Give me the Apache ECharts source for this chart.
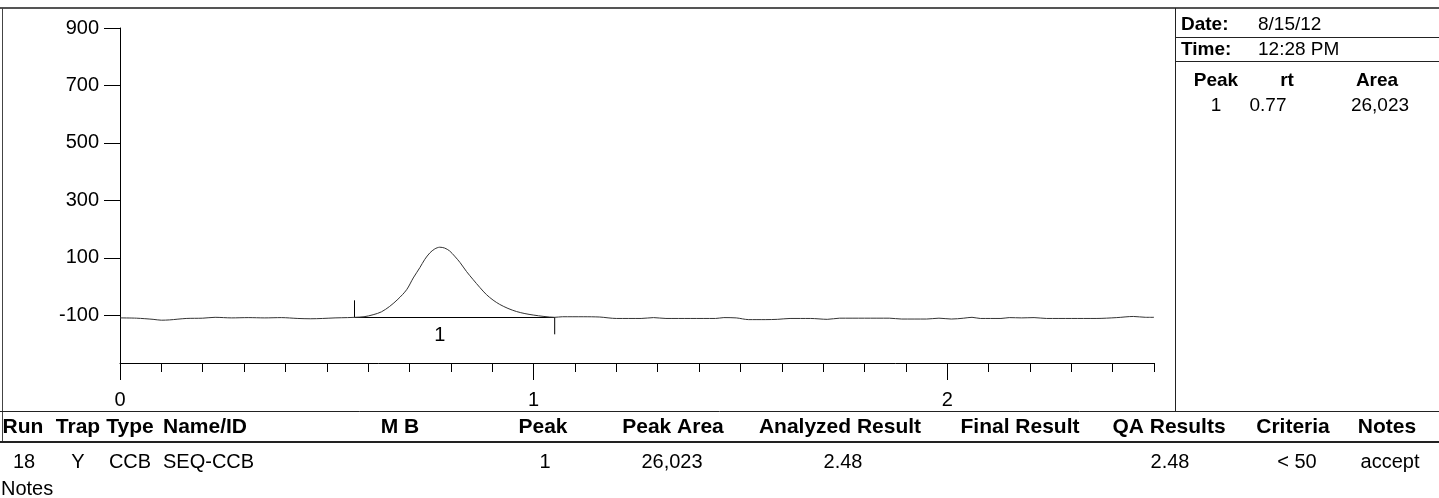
<!DOCTYPE html>
<html>
<head>
<meta charset="utf-8">
<script src="https://cdn.jsdelivr.net/npm/echarts@6/dist/echarts.min.js"></script>
<style>
  html, body { margin: 0; padding: 0; background: #fff; }
  #chart { width: 1439px; height: 498px; }
</style>
</head>
<body>
<div id="chart"></div>
<script>
// Detector trace: retention time (min) and signal
const rt = [
  0.00, 0.04, 0.08, 0.10, 0.12, 0.16, 0.20, 0.23, 0.27, 0.31, 0.35, 0.39, 0.43, 0.46, 0.49, 0.52, 0.55,
  0.567, 0.59, 0.612, 0.632, 0.652, 0.672, 0.693, 0.709, 0.725, 0.737, 0.749, 0.761, 0.773, 0.785,
  0.797, 0.809, 0.822, 0.838, 0.854, 0.870, 0.886, 0.902, 0.918, 0.938, 0.959, 0.979, 0.999, 1.025, 1.051,
  1.07, 1.12, 1.16, 1.20, 1.26, 1.29, 1.32, 1.38, 1.44, 1.46, 1.49, 1.52, 1.56, 1.59, 1.62, 1.67, 1.71,
  1.74, 1.80, 1.86, 1.89, 1.95, 1.98, 2.01, 2.04, 2.06, 2.08, 2.13, 2.15, 2.18, 2.21, 2.24, 2.30, 2.36,
  2.41, 2.45, 2.48, 2.50
];
const signal = [
  -109, -110, -114, -117, -116, -111, -110, -107, -109, -108, -109, -108, -111, -112, -111, -109, -108,
  -107, -105, -98, -88, -69, -44, -11, 30, 66, 95, 117, 131, 137, 134,
  124, 106, 84, 52, 24, -3, -28, -47, -62, -76, -87, -94, -99, -104, -107,
  -105, -105, -106, -111, -111, -108, -111, -111, -111, -108, -109, -115, -115, -114, -111, -111, -114,
  -110, -110, -110, -113, -113, -110, -113, -110, -107, -111, -111, -108, -109, -108, -111, -111, -111,
  -108, -104, -107, -107
];

// Integrated peaks
const peakNumbers = [1];
const peakApex = [0.773];
const peakStart = [0.567];
const peakEnd = [1.051];
const peakBase = [-107];
const peakRt = ['0.77'];
const peakAreas = ['26,023'];

// Axis ticks
const yTickValues = [-100, 100, 300, 500, 700, 900];
const xLabelValues = [0, 1, 2];
const xMinorValues = [0, 0.1, 0.2, 0.3, 0.4, 0.5, 0.6, 0.7, 0.8, 0.9, 1, 1.1, 1.2, 1.3, 1.4, 1.5,
  1.6, 1.7, 1.8, 1.9, 2, 2.1, 2.2, 2.3, 2.4, 2.5];

// Run header
const reportDate = '8/15/12';
const reportTime = '12:28 PM';
const peakTableHeaders = ['Peak', 'rt', 'Area'];

// Results table
const tableHeaders = ['Run', 'Trap', 'Type', 'Name/ID', 'M B', 'Peak', 'Peak Area',
  'Analyzed Result', 'Final Result', 'QA Results', 'Criteria', 'Notes'];
const tableRow = ['18', 'Y', 'CCB', 'SEQ-CCB', '', '1', '26,023', '2.48', '', '2.48', '< 50', 'accept'];
const notesLabel = 'Notes';

const FONT = "'Liberation Sans', Arial, sans-serif";

const chart = echarts.init(document.getElementById('chart'), null, { renderer: 'canvas' });

// Column layout of the results table: [x, align]
const headerCols = [
  [23, 'center'], [78, 'center'], [130, 'center'], [163, 'left'], [400, 'center'], [543, 'center'],
  [673, 'center'], [840, 'center'], [1020, 'center'], [1169, 'center'], [1293, 'center'], [1387, 'center']
];
const rowCols = [
  [24, 'center'], [78, 'center'], [130, 'center'], [163, 'left'], [400, 'center'], [545, 'center'],
  [672, 'center'], [843, 'center'], [1020, 'center'], [1170, 'center'], [1297, 'center'], [1390, 'center']
];

const graphics = [];
function hline(x1, x2, y, w, c) {
  graphics.push({ type: 'line', silent: true, shape: { x1, y1: y, x2, y2: y },
    style: { stroke: c || '#000', lineWidth: w || 1 } });
}
function vline(x, y1, y2, w, c) {
  graphics.push({ type: 'line', silent: true, shape: { x1: x, y1, x2: x, y2 },
    style: { stroke: c || '#000', lineWidth: w || 1 } });
}
function txt(text, x, y, align, bold, size) {
  graphics.push({ type: 'text', silent: true, x, y, style: {
    text, fill: '#000', align, verticalAlign: 'middle',
    font: (bold ? 'bold ' : '') + (size || 20) + 'px ' + FONT
  } });
}

// Frame
hline(0, 1439, 8, 2, '#555');
vline(2.5, 8, 443, 1, '#444');
vline(1175.5, 8, 411, 1, '#222');

// Run header panel
hline(1175, 1439, 37.5, 1, '#222');
hline(1175, 1439, 61.5, 1, '#222');
txt('Date:', 1181, 25, 'left', true, 19);
txt(reportDate, 1258, 25, 'left', false, 19);
txt('Time:', 1181, 50, 'left', true, 19);
txt(reportTime, 1258, 50, 'left', false, 19);
const peakColX = [1216, 1287, 1377];
peakTableHeaders.forEach((h, i) => txt(h, peakColX[i], 81, 'center', true, 19));
peakNumbers.forEach((n, i) => {
  txt(String(n), 1216, 106 + i * 24, 'center', false, 19);
  txt(peakRt[i], 1268, 106 + i * 24, 'center', false, 19);
  txt(peakAreas[i], 1380, 106 + i * 24, 'center', false, 19);
});

// Results table
hline(0, 1439, 411.5, 1, '#222');
hline(0, 1439, 442, 2, '#222');
tableHeaders.forEach((h, i) => txt(h, headerCols[i][0], 427, headerCols[i][1], true, 21));
tableRow.forEach((v, i) => { if (v) txt(v, rowCols[i][0], 462, rowCols[i][1], false, 20); });
txt(notesLabel, 1, 489, 'left', false, 20);

const option = {
  animation: false,
  backgroundColor: '#fff',
  grid: { left: 120, top: 28, width: 1034, height: 335, containLabel: false },
  xAxis: [
    {
      type: 'value', min: 0, max: 2.5, position: 'bottom',
      axisLine: { show: true, onZero: false, lineStyle: { color: '#000', width: 1 } },
      axisTick: { show: true, customValues: xMinorValues, length: 9, lineStyle: { color: '#000' } },
      axisLabel: { show: false },
      splitLine: { show: false }
    },
    {
      type: 'value', min: 0, max: 2.5, position: 'bottom',
      axisLine: { show: false, onZero: false },
      axisTick: { show: true, customValues: xLabelValues, length: 17, lineStyle: { color: '#000' } },
      axisLabel: { show: true, customValues: xLabelValues, margin: 27, color: '#000',
        fontSize: 20, fontFamily: FONT },
      splitLine: { show: false }
    }
  ],
  yAxis: {
    type: 'value', min: -266, max: 900,
    axisLine: { show: true, onZero: false, lineStyle: { color: '#000', width: 1 } },
    axisTick: { show: true, customValues: yTickValues, length: 16, lineStyle: { color: '#000' } },
    axisLabel: { show: true, customValues: yTickValues, margin: 21, color: '#000',
      fontSize: 20, fontFamily: FONT },
    splitLine: { show: false }
  },
  series: [
    {
      type: 'line', xAxisIndex: 0,
      data: rt.map((t, i) => [t, signal[i]]),
      showSymbol: false, smooth: 0.3,
      lineStyle: { color: '#333', width: 1 },
      silent: true
    },
    {
      // integration baseline of each peak
      type: 'lines', coordinateSystem: 'cartesian2d', xAxisIndex: 0,
      data: peakNumbers.map((n, i) => ({ coords: [[peakStart[i], peakBase[i]], [peakEnd[i], peakBase[i]]] })),
      lineStyle: { color: '#000', width: 1, opacity: 1 },
      silent: true
    },
    {
      // peak start / end markers and peak number
      type: 'custom', xAxisIndex: 0,
      data: peakNumbers.map((n, i) => [peakApex[i], peakBase[i], i]),
      encode: { x: 0, y: 1 },
      silent: true,
      renderItem: function (params, api) {
        const i = api.value(2);
        const s = api.coord([peakStart[i], peakBase[i]]);
        const e = api.coord([peakEnd[i], peakBase[i]]);
        const a = api.coord([peakApex[i], peakBase[i]]);
        return {
          type: 'group',
          children: [
            { type: 'line', shape: { x1: s[0], y1: s[1], x2: s[0], y2: s[1] - 17 }, style: { stroke: '#000', lineWidth: 1 } },
            { type: 'line', shape: { x1: e[0], y1: e[1], x2: e[0], y2: e[1] + 17 }, style: { stroke: '#000', lineWidth: 1 } },
            { type: 'text', x: a[0], y: a[1] + 8, style: { text: String(peakNumbers[i]), fill: '#000',
              align: 'center', verticalAlign: 'top', font: '20px ' + FONT } }
          ]
        };
      }
    }
  ],
  graphic: graphics
};

chart.setOption(option);
</script>
</body>
</html>
